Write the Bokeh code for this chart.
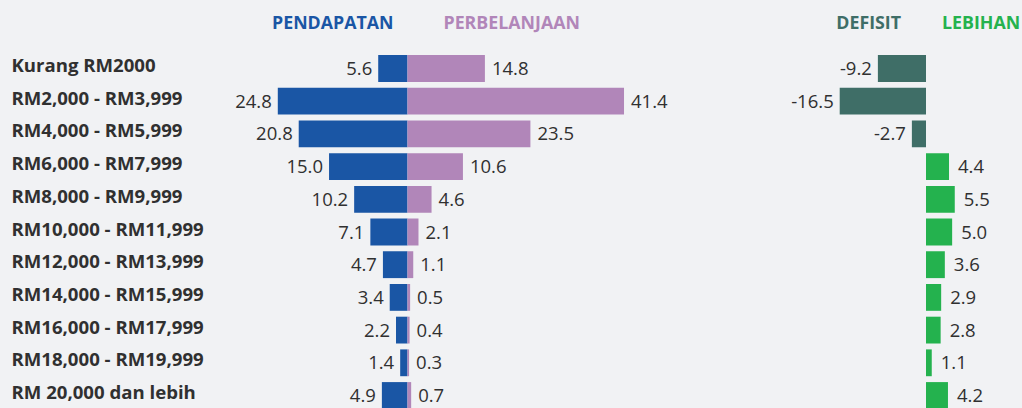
from bokeh.plotting import figure
from bokeh.models import ColumnDataSource, Range1d, Label
from bokeh.layouts import row
from bokeh.core.properties import value
from bokeh.embed import file_html
from bokeh.resources import INLINE

categories = ["Kurang RM2000", "RM2,000 - RM3,999", "RM4,000 - RM5,999", "RM6,000 - RM7,999",
              "RM8,000 - RM9,999", "RM10,000 - RM11,999", "RM12,000 - RM13,999",
              "RM14,000 - RM15,999", "RM16,000 - RM17,999", "RM18,000 - RM19,999",
              "RM 20,000 dan lebih"]
pendapatan = [5.6, 24.8, 20.8, 15.0, 10.2, 7.1, 4.7, 3.4, 2.2, 1.4, 4.9]
perbelanjaan = [14.8, 41.4, 23.5, 10.6, 4.6, 2.1, 1.1, 0.5, 0.4, 0.3, 0.7]
baki = [-9.2, -16.5, -2.7, 4.4, 5.5, 5.0, 3.6, 2.9, 2.8, 1.1, 4.2]

BG = "#f1f2f4"
TXT = "#303030"
C_INC = "#1a56a5"
C_EXP = "#b186b9"
C_DEF = "#3f6e67"
C_SUR = "#24b24e"
FONT = value("Open Sans")
H = 408
PITCH = 32.7
YR = (-68 / PITCH + H / PITCH, -68 / PITCH)   # flipped: row 0 at top
BAR_H = 0.82
VAL_SIZE = "18.5px"
HEAD_SIZE = "17.8px"
HEAD_Y = -68 / PITCH + 21.5 / PITCH

idx = list(range(len(categories)))

src = ColumnDataSource(dict(
    y=idx, cat=categories,
    inc=pendapatan, neg_inc=[-v for v in pendapatan], exp=perbelanjaan,
    inc_txt=[f"{v:.1f}" for v in pendapatan], exp_txt=[f"{v:.1f}" for v in perbelanjaan],
))
def_src = ColumnDataSource(dict(
    y=[i for i, v in zip(idx, baki) if v < 0],
    v=[v for v in baki if v < 0],
    t=[f"{v:.1f}" for v in baki if v < 0],
))
sur_src = ColumnDataSource(dict(
    y=[i for i, v in zip(idx, baki) if v > 0],
    v=[v for v in baki if v > 0],
    t=[f"{v:.1f}" for v in baki if v > 0],
))


def base(width, xr):
    f = figure(width=width, height=H, output_backend="svg", toolbar_location=None,
               x_range=Range1d(*xr), y_range=Range1d(*YR),
               min_border=0, min_border_left=0, min_border_right=0,
               min_border_top=0, min_border_bottom=0)
    f.background_fill_color = BG
    f.border_fill_color = BG
    f.outline_line_color = None
    f.axis.visible = False
    f.grid.visible = False
    return f

# labels panel (page x 0..218)
pl = base(218, (0, 218))
pl.text(x=11, y="y", text="cat", source=src, text_font=FONT, text_font_size="18.6px",
        text_font_style="bold", text_color=TXT, text_baseline="middle", text_align="left",
        y_offset=-4)

# income / expenditure panel (page x 218..720), 5.23 px per unit, centre at page x 407
S = 5.23
pb = base(502, (-(407 - 218) / S, (720 - 407) / S))
pb.hbar(y="y", left="neg_inc", right=0, height=BAR_H, source=src, color=C_INC, line_color=None)
pb.hbar(y="y", left=0, right="exp", height=BAR_H, source=src, color=C_EXP, line_color=None)
pb.text(x="neg_inc", y="y", text="inc_txt", source=src, text_font=FONT, text_font_size=VAL_SIZE,
        text_color=TXT, text_baseline="middle", text_align="right", x_offset=-6)
pb.text(x="exp", y="y", text="exp_txt", source=src, text_font=FONT, text_font_size=VAL_SIZE,
        text_color=TXT, text_baseline="middle", text_align="left", x_offset=7)
pb.add_layout(Label(x=0, y=HEAD_Y, x_offset=-14, text="PENDAPATAN", text_font="Open Sans",
                    text_font_size=HEAD_SIZE, text_font_style="bold", text_color=C_INC,
                    text_align="right", text_baseline="middle"))
pb.add_layout(Label(x=0, y=HEAD_Y, x_offset=36, text="PERBELANJAAN", text_font="Open Sans",
                    text_font_size=HEAD_SIZE, text_font_style="bold", text_color=C_EXP,
                    text_align="left", text_baseline="middle"))

# deficit / surplus panel (page x 720..1022), centre at page x 925.5
pc = base(302, (-(925.5 - 720) / S, (1022 - 925.5) / S))
pc.hbar(y="y", left="v", right=0, height=BAR_H, source=def_src, color=C_DEF, line_color=None)
pc.hbar(y="y", left=0, right="v", height=BAR_H, source=sur_src, color=C_SUR, line_color=None)
pc.text(x="v", y="y", text="t", source=def_src, text_font=FONT, text_font_size=VAL_SIZE,
        text_color=TXT, text_baseline="middle", text_align="right", x_offset=-6)
pc.text(x="v", y="y", text="t", source=sur_src, text_font=FONT, text_font_size=VAL_SIZE,
        text_color=TXT, text_baseline="middle", text_align="left", x_offset=9)
pc.add_layout(Label(x=0, y=HEAD_Y, x_offset=-25, text="DEFISIT", text_font="Open Sans",
                    text_font_size=HEAD_SIZE, text_font_style="bold", text_color=C_DEF,
                    text_align="right", text_baseline="middle"))
pc.add_layout(Label(x=0, y=HEAD_Y, x_offset=16, text="LEBIHAN", text_font="Open Sans",
                    text_font_size=HEAD_SIZE, text_font_style="bold", text_color=C_SUR,
                    text_align="left", text_baseline="middle"))

layout = row(pl, pb, pc, spacing=0)
layout.styles = {"background-color": BG}
html = file_html(layout, INLINE)
html = html.replace("<head>", "<head><style>html,body{background:%s;}</style>" % BG, 1)
open("out.html", "w").write(html)
